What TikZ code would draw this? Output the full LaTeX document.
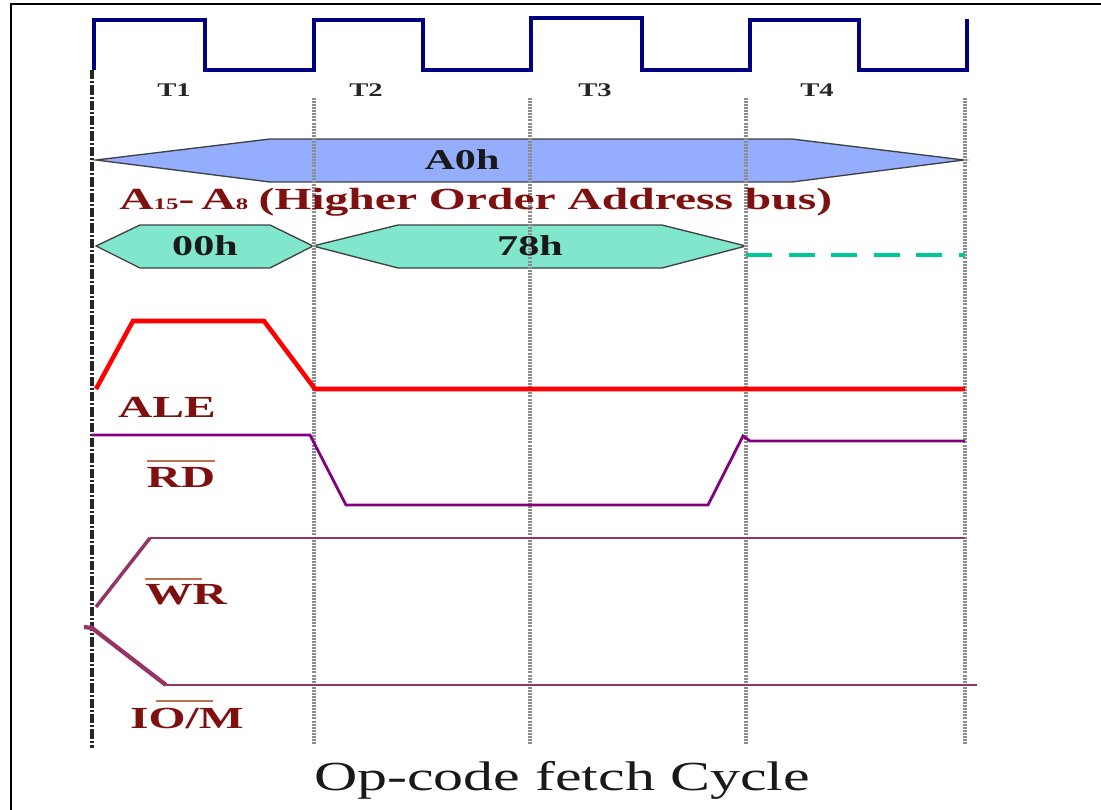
\documentclass[tikz,border=0pt]{standalone}
\usepackage{fontspec}
\setmainfont{Liberation Serif}
\definecolor{clk}{HTML}{000080}
\definecolor{blueb}{HTML}{94AEFD}
\definecolor{greenb}{HTML}{80E6CC}
\definecolor{dashg}{HTML}{00C896}
\definecolor{lab}{HTML}{7F1010}
\definecolor{rdc}{HTML}{800080}
\definecolor{wrc}{HTML}{963264}
\definecolor{barc}{HTML}{C07050}
\tikzset{
 clock/.style={draw=clk,line width=2.6pt,line join=miter},
 guide/.style={draw=black!45,line width=2.8pt,dash pattern=on 1.5pt off 0.8pt},
 leftguide/.style={draw=black!85,line width=2.9pt,dash pattern=on 7pt off 1.5pt on 1.5pt off 1.5pt},
 bus/.style={draw=black!75,line width=1pt},
 tlab/.style={font=\bfseries\fontsize{14.5}{14.5}\selectfont,text=black!85,xscale=1.48,inner sep=0},
 blab/.style={font=\bfseries\fontsize{21.5}{21.5}\selectfont,text=black!90,xscale=1.47,inner sep=0},
 slab/.style={font=\bfseries\fontsize{23}{23}\selectfont,text=lab,xscale=1.55,inner sep=0},
 ovl/.style={draw=barc,line width=1.2pt},
}
\begin{document}
\begin{tikzpicture}[x=0.75pt,y=-0.75pt]
\useasboundingbox (0,0) rectangle (1101,810);
\draw[black,line width=2pt] (1101,4) -- (11,4) -- (11,810);
% bus shapes
\filldraw[bus,fill=blueb] (96,160) -- (270,139) -- (792,139) -- (964,160) -- (792,182) -- (270,182) -- cycle;
\filldraw[bus,fill=greenb] (96,246) -- (140,225) -- (270,225) -- (313,246) -- (270,268) -- (140,268) -- cycle;
\filldraw[bus,fill=greenb] (313,246) -- (398,225) -- (662,225) -- (746,246) -- (662,268) -- (398,268) -- cycle;
% guides
\draw[guide] (314,98) -- (314,745);
\draw[guide] (530,98) -- (530,745);
\draw[guide] (746,98) -- (746,745);
\draw[guide] (965,98) -- (965,745);
\draw[leftguide] (92,70) -- (92,748);
% clock
\draw[clock] (94,70) -- (94,20) -- (205,20) -- (205,70) -- (314,70) -- (314,20) -- (423,20) -- (423,70) -- (531,70) -- (531,18) -- (642,18) -- (642,70) -- (750,70) -- (750,20) -- (859,20) -- (859,70) -- (967,70) -- (967,19);
\node[tlab] (t1) at (174,90) {T1};
\node[tlab] (t2) at (366,90) {T2};
\node[tlab] (t3) at (595,90) {T3};
\node[tlab] (t4) at (817,90) {T4};
\node[blab] (a0) at (462,160) {A0h};
\node[blab] (h00) at (205,246) {00h};
\node[blab] (h78) at (530,246) {78h};
\node[slab,anchor=west] (addr) at (119,202) {A{\fontsize{12}{12}\selectfont 15}-\kern0.15em A{\fontsize{12}{12}\selectfont 8}\kern0.22em(Higher Order Address bus)};
\draw[dashg,line width=2.4pt,dash pattern=on 19.5pt off 12.4pt] (746,255) -- (965,255);
% ALE
\draw[red,line width=3.4pt] (96,389) -- (133,321) -- (264,321) -- (315,389) -- (965,389);
\node[slab] (ale) at (167,407) {ALE};
% RD
\draw[rdc,line width=2.1pt] (92,435) -- (310,435) -- (346,505) -- (708,505) -- (743,436) -- (750,441) -- (965,441);
\node[slab] (rd) at (181,477) {RD};
\draw[ovl] (147,461) -- (215,461);
% WR
\draw[wrc,line width=2.6pt] (96,607) -- (150,538);
\draw[wrc,line width=2.1pt] (150,538) -- (965,538);
\node[slab] (wr) at (186,595) {WR};
\draw[ovl] (145,579) -- (202,579);
% IO/M
\draw[wrc,line width=3.2pt] (84,627) -- (92,628) -- (166,685);
\draw[wrc,line width=2.1pt] (166,685) -- (977,685);
\node[slab] (iom) at (187,718) {IO/M};
\draw[ovl] (156,701) -- (213,701);
\node[font=\fontsize{31}{31}\selectfont,text=black!90,xscale=1.45,inner sep=0] (title) at (562,780) {Op-code fetch Cycle};
\end{tikzpicture}
\end{document}
